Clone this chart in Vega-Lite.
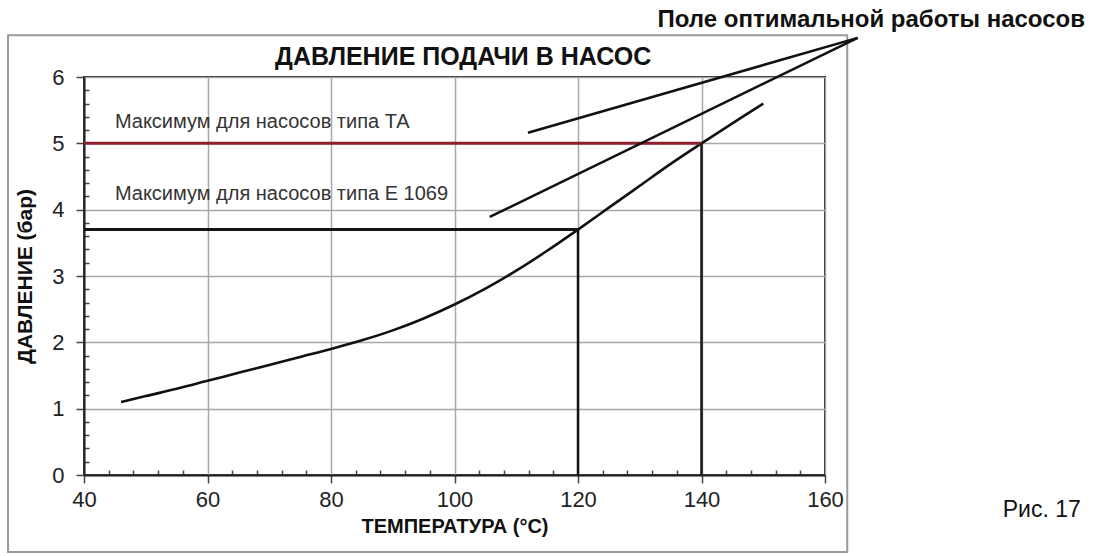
{
  "$schema": "https://vega.github.io/schema/vega-lite/v6.json",
  "autosize": {"type": "none"},
  "width": 741,
  "height": 398,
  "padding": {"left": 84, "top": 77, "right": 272, "bottom": 81},
  "background": "white",
  "config": {"font": "Liberation Sans", "view": {"stroke": "#222", "strokeWidth": 2}},
  "datasets": {
    "curve": [
      {"t": 46, "p": 1.1}, {"t": 50, "p": 1.19}, {"t": 55, "p": 1.3}, {"t": 60, "p": 1.42},
      {"t": 65, "p": 1.54}, {"t": 70, "p": 1.66}, {"t": 75, "p": 1.78}, {"t": 80, "p": 1.9},
      {"t": 85, "p": 2.03}, {"t": 90, "p": 2.18}, {"t": 95, "p": 2.36}, {"t": 100, "p": 2.57},
      {"t": 105, "p": 2.81}, {"t": 110, "p": 3.08}, {"t": 115, "p": 3.38}, {"t": 120, "p": 3.7},
      {"t": 125, "p": 4.03}, {"t": 130, "p": 4.36}, {"t": 135, "p": 4.69}, {"t": 140, "p": 5.0},
      {"t": 145, "p": 5.3}, {"t": 150, "p": 5.6}
    ],
    "frame": [{"t": 27.7, "t2": 163.6, "p": -1.16, "p2": 6.63}],
    "limitTA": [{"t": 40, "t2": 140, "p": 5, "p2": 5}],
    "limitE": [{"t": 40, "t2": 120, "p": 3.7, "p2": 3.7}],
    "drops": [{"t": 120, "t2": 120, "p": 0, "p2": 3.7}, {"t": 140, "t2": 140, "p": 0, "p2": 5}],
    "pointers": [{"t": 165.3, "t2": 111.9, "p": 6.59, "p2": 5.16}, {"t": 165.3, "t2": 105.7, "p": 6.59, "p2": 3.89}],
    "notes": [
      {"t": 45, "p": 5.23, "label": "Максимум для насосов типа ТА"},
      {"t": 45, "p": 4.15, "label": "Максимум для насосов типа Е 1069"}
    ],
    "heading": [{"t": 101.4, "p": 6.3, "label": "ДАВЛЕНИЕ ПОДАЧИ В НАСОС"}],
    "header": [{"t": 202.1, "p": 6.755, "label": "Поле оптимальной работы насосов"}],
    "fig": [{"t": 195.1, "p": -0.53, "label": "Рис. 17"}]
  },
  "encoding": {
    "x": {
      "field": "t", "type": "quantitative", "title": "ТЕМПЕРАТУРА (°C)",
      "scale": {"domain": [40, 160], "nice": false, "zero": false},
      "axis": {
        "values": [40,44,48,52,56,60,64,68,72,76,80,84,88,92,96,100,104,108,112,116,120,124,128,132,136,140,144,148,152,156,160],
        "labelExpr": "datum.value % 20 === 0 ? format(datum.value, 'd') : ''",
        "labelFontSize": 22, "labelColor": "#222", "labelPadding": 6, "labelFlush": false,
        "tickSize": {"condition": {"test": "datum.value % 20 === 0", "value": 8}, "value": -5},
        "tickColor": "#444", "tickWidth": 1.5,
        "domainColor": "#222", "domainWidth": 2,
        "gridColor": "#a8a8a8", "gridWidth": 1.5,
        "gridOpacity": {"condition": {"test": "datum.value % 20 === 0", "value": 1}, "value": 0},
        "titleFontSize": 20, "titleFontWeight": "bold", "titlePadding": 6, "titleColor": "#111"
      }
    },
    "y": {
      "field": "p", "type": "quantitative", "title": "ДАВЛЕНИЕ (бар)",
      "scale": {"domain": [0, 6], "nice": false},
      "axis": {
        "values": [0,0.2,0.4,0.6,0.8,1,1.2,1.4,1.6,1.8,2,2.2,2.4,2.6,2.8,3,3.2,3.4,3.6,3.8,4,4.2,4.4,4.6,4.8,5,5.2,5.4,5.6,5.8,6],
        "labelExpr": "datum.value % 1 === 0 ? format(datum.value, 'd') : ''",
        "labelFontSize": 22, "labelColor": "#222", "labelPadding": 12, "labelFlush": false,
        "tickSize": {"condition": {"test": "datum.value % 1 === 0", "value": 8}, "value": -5},
        "tickColor": "#444", "tickWidth": 1.5,
        "domainColor": "#222", "domainWidth": 2,
        "gridColor": "#a8a8a8", "gridWidth": 1.5,
        "gridOpacity": {"condition": {"test": "datum.value % 1 === 0", "value": 1}, "value": 0},
        "titleFontSize": 21, "titleFontWeight": "bold", "titlePadding": 16, "titleColor": "#111"
      }
    }
  },
  "layer": [
    {
      "data": {"name": "frame"},
      "mark": {"type": "rect", "fill": "transparent", "stroke": "#9a9a9a", "strokeWidth": 2, "clip": false},
      "encoding": {"x2": {"field": "t2"}, "y2": {"field": "p2"}}
    },
    {
      "data": {"name": "curve"},
      "mark": {"type": "line", "interpolate": "monotone", "color": "#111", "strokeWidth": 2.6}
    },
    {
      "data": {"name": "limitTA"},
      "mark": {"type": "rule", "color": "#8e1f2c", "strokeWidth": 3},
      "encoding": {"x2": {"field": "t2"}, "y2": {"field": "p2"}}
    },
    {
      "data": {"name": "limitE"},
      "mark": {"type": "rule", "color": "#151515", "strokeWidth": 3},
      "encoding": {"x2": {"field": "t2"}, "y2": {"field": "p2"}}
    },
    {
      "data": {"name": "drops"},
      "mark": {"type": "rule", "color": "#151515", "strokeWidth": 2.5},
      "encoding": {"x2": {"field": "t2"}, "y2": {"field": "p2"}}
    },
    {
      "data": {"name": "pointers"},
      "mark": {"type": "rule", "color": "#111", "strokeWidth": 2.5, "clip": false},
      "encoding": {"x2": {"field": "t2"}, "y2": {"field": "p2"}}
    },
    {
      "data": {"name": "notes"},
      "mark": {"type": "text", "align": "left", "baseline": "alphabetic", "fontSize": 20, "color": "#333"},
      "encoding": {"text": {"field": "label"}}
    },
    {
      "data": {"name": "heading"},
      "mark": {"type": "text", "align": "center", "baseline": "middle", "fontSize": 25, "fontWeight": "bold", "color": "#111", "clip": false},
      "encoding": {"text": {"field": "label"}}
    },
    {
      "data": {"name": "header"},
      "mark": {"type": "text", "align": "right", "baseline": "alphabetic", "fontSize": 24, "fontWeight": "bold", "color": "#111", "clip": false},
      "encoding": {"text": {"field": "label"}}
    },
    {
      "data": {"name": "fig"},
      "mark": {"type": "text", "align": "center", "baseline": "middle", "fontSize": 23, "color": "#111", "clip": false},
      "encoding": {"text": {"field": "label"}}
    }
  ]
}
